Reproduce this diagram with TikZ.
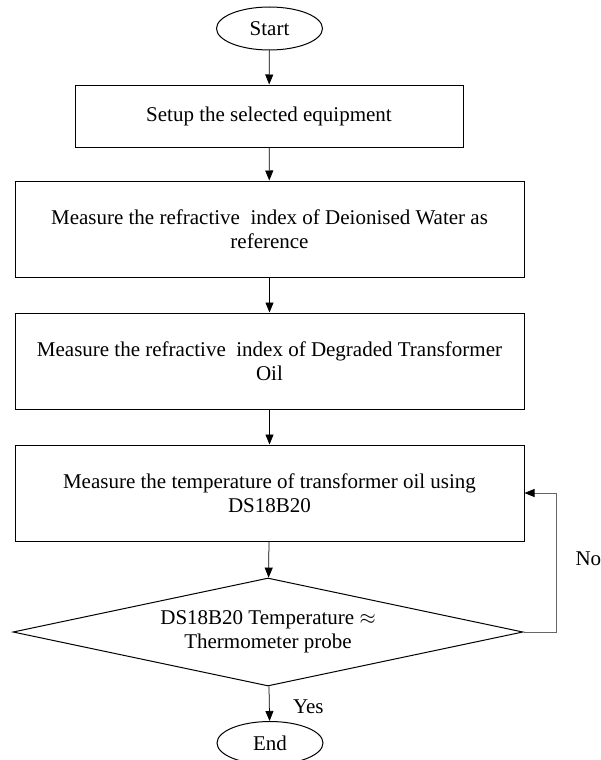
\documentclass[tikz,border=0pt]{standalone}
\usepackage{fontspec}
\setmainfont{Liberation Serif}
\usetikzlibrary{shapes.geometric,arrows.meta}

\begin{document}
\begin{tikzpicture}[x=1pt,y=-1pt,
  font=\fontsize{21}{24}\selectfont,
  term/.style={ellipse,draw,line width=1pt,minimum width=106pt,minimum height=43pt,inner sep=0pt},
  stepbox/.style={draw,line width=1pt,minimum width=509pt,minimum height=96pt,align=center,inner sep=0pt},
  decide/.style={diamond,draw,line width=1pt,aspect=4.7,minimum width=510pt,minimum height=108pt,align=center,inner sep=0pt},
  flow/.style={line width=0.75pt,-{Triangle[length=10pt,width=8pt,color=black]}}]
\useasboundingbox (0,0) rectangle (600,760);

\node[term] (start) at (269.5,28.5) {Start};
\node[stepbox,minimum width=388pt,minimum height=62pt] (setup) at (269,116) {Setup the selected equipment};
\node[stepbox] (water) at (269.5,229) {Measure the refractive~ index of Deionised Water as\\reference};
\node[stepbox] (oil) at (269.5,361) {Measure the refractive~ index of Degraded Transformer\\Oil};
\node[stepbox] (temp) at (269.5,493) {Measure the temperature of transformer oil using\\DS18B20};
\node[decide] (check) at (268,632) {DS18B20 Temperature $\approx$\\Thermometer probe};
\node[term] (end) at (270,743) {End};

\draw[flow] (start) -- (setup);
\draw[flow] (setup) -- (water);
\draw[flow] (water) -- (oil);
\draw[flow] (oil) -- (temp);
\draw[flow] (temp) -- (check);
\draw[flow] (check) -- node[right=20pt,pos=0.6] (yes) {Yes} (end);
\draw[flow,draw=black!60] (check.east) -- ++(33,0) coordinate (c) |- (temp.east);
\node[anchor=west] (no) at (572,559) {No};
\end{tikzpicture}
\end{document}
